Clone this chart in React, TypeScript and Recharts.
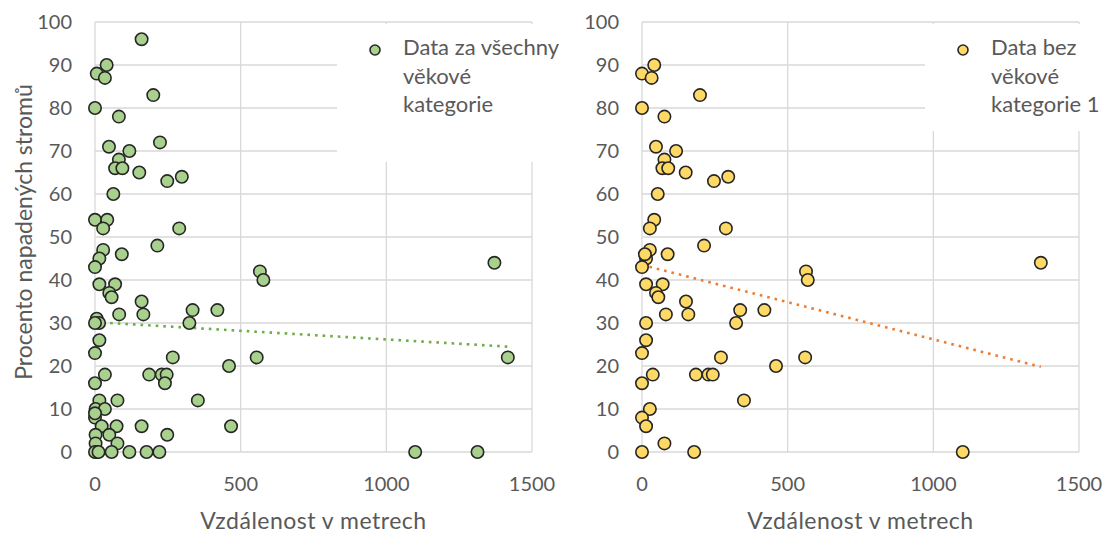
import React from 'react';
import { ScatterChart, Scatter, XAxis, YAxis, CartesianGrid, ReferenceLine, Legend } from 'recharts';

const xTicks = [0, 500, 1000, 1500];
const yTicks = [0, 10, 20, 30, 40, 50, 60, 70, 80, 90, 100];

const allX = [160, 6, 40, 34, 200, 0, 82, 48, 118, 223, 82, 69, 94, 152, 248, 298, 63, 0, 42, 28, 289, 28, 15, 92, 214, 0, 15, 69, 49, 57, 83, 160, 166, 335, 420, 324, 566, 578, 6, 14, 0, 15, 0, 267, 555, 460, 34, 0, 186, 229, 246, 240, 15, 77, 353, 2, 34, 0, 0, 23, 74, 160, 467, 2, 49, 248, 77, 2, 6, 57, 118, 177, 221, 0, 12, 1371, 1417, 1099, 1313];
const allY = [96, 88, 90, 87, 83, 80, 78, 71, 70, 72, 68, 66, 66, 65, 63, 64, 60, 54, 54, 52, 52, 47, 45, 46, 48, 43, 39, 39, 37, 36, 32, 35, 32, 33, 33, 30, 42, 40, 31, 30, 30, 26, 23, 22, 22, 20, 18, 16, 18, 18, 18, 16, 12, 12, 12, 10, 10, 8, 9, 6, 6, 6, 6, 4, 4, 4, 2, 2, 0, 0, 0, 0, 0, 0, 0, 44, 22, 0, 0];

const no1X = [0, 42, 33, 199, 0, 77, 48, 117, 77, 70, 90, 150, 247, 296, 54, 42, 27, 288, 27, 14, 10, 88, 213, 0, 14, 71, 48, 56, 82, 151, 159, 337, 420, 323, 563, 569, 14, 14, 0, 271, 560, 460, 37, 0, 185, 228, 243, 350, 27, 0, 14, 77, 0, 179, 1369, 1101];
const no1Y = [88, 90, 87, 83, 80, 78, 71, 70, 68, 66, 66, 65, 63, 64, 60, 54, 52, 52, 47, 45, 46, 46, 48, 43, 39, 39, 37, 36, 32, 35, 32, 33, 33, 30, 42, 40, 30, 26, 23, 22, 22, 20, 18, 16, 18, 18, 18, 12, 10, 8, 6, 2, 0, 0, 44, 0];

const trendAllX = [0, 1417];
const trendAllY = [30.2, 24.5];
const trendNo1X = [0, 1369];
const trendNo1Y = [43.5, 19.8];

const allLabel = ['Data za všechny', 'věkové', 'kategorie'];
const no1Label = ['Data bez', 'věkové', 'kategorie 1'];

const allData = allX.map((x, i) => ({ x, y: allY[i] }));
const no1Data = no1X.map((x, i) => ({ x, y: no1Y[i] }));

const FONT = 'Lato, "Open Sans", sans-serif';
const GRAY = '#595959';
const GREEN = '#A9D18E';
const YELLOW = '#FFD966';

const marker = (fill: string) => (p: any) => (
  <circle cx={p.cx} cy={p.cy} r={6.2} fill={fill} stroke="#262626" strokeWidth={1.6} />
);

const legendContent = (fill: string, lines: string[]) => () => (
  <div style={{ position: 'relative', width: '100%', height: '100%', fontFamily: FONT, color: GRAY, fontSize: 22 }}>
    <svg width={14} height={14} style={{ position: 'absolute', left: 31, top: 19 }}>
      <circle cx={7} cy={7} r={5} fill={fill} stroke="#262626" strokeWidth={1.6} />
    </svg>
    <div style={{ position: 'absolute', left: 66, top: 9, lineHeight: '28.5px', whiteSpace: 'nowrap' }}>
      {lines.map((l, i) => (
        <div key={i}>{l}</div>
      ))}
    </div>
  </div>
);

const tickStyle = { fill: GRAY, fontSize: 20, fontFamily: FONT };

function Panel(props: {
  left: number;
  width: number;
  plotLeft: number;
  plotRight: number;
  data: { x: number; y: number }[];
  fill: string;
  trendColor: string;
  tx: number[];
  ty: number[];
  legendLines: string[];
  legendBox: { left: number; top: number; width: number; height: number };
  yLabel?: string;
}) {
  const { left, width, plotLeft, plotRight, data, fill, trendColor, tx, ty, legendLines, legendBox, yLabel } = props;
  return (
    <div style={{ position: 'absolute', left, top: 0 }}>
      <ScatterChart width={width} height={535} margin={{ top: 22, right: width - plotRight, bottom: 0, left: 0 }}>
        <CartesianGrid stroke="#d9d9d9" strokeWidth={1.3} />
        <XAxis
          type="number"
          dataKey="x"
          domain={[0, 1500]}
          ticks={xTicks}
          axisLine={false}
          tickLine={false}
          height={83}
          tickMargin={19}
          tick={tickStyle}
          interval={0}
          label={{
            content: () => (
              <text
                x={plotLeft + (plotRight - plotLeft) / 2}
                y={529}
                textAnchor="middle"
                fill={GRAY}
                fontSize={23}
                letterSpacing={0.5}
                fontFamily={FONT}
              >
                Vzdálenost v metrech
              </text>
            ),
          }}
        />
        <YAxis
          type="number"
          dataKey="y"
          domain={[0, 100]}
          ticks={yTicks}
          axisLine={false}
          tickLine={false}
          width={plotLeft}
          tickMargin={17}
          tick={tickStyle}
          interval={0}
          label={
            yLabel
              ? {
                  content: () => (
                    <text
                      x={23}
                      y={232}
                      transform="rotate(-90 23 232)"
                      textAnchor="middle"
                      dominantBaseline="central"
                      fill={GRAY}
                      fontSize={23}
                      fontFamily={FONT}
                    >
                      {yLabel}
                    </text>
                  ),
                }
              : undefined
          }
        />
        <Legend
          layout="vertical"
          align="center"
          verticalAlign="middle"
          wrapperStyle={{ position: 'absolute', background: '#fff', ...legendBox }}
          content={legendContent(fill, legendLines)}
        />
        <Scatter data={data} isAnimationActive={false} shape={marker(fill)} />
        <ReferenceLine
          segment={[
            { x: tx[0], y: ty[0] },
            { x: tx[1], y: ty[1] },
          ]}
          stroke={trendColor}
          strokeWidth={2.6}
          strokeDasharray="2.6 5"
        />
      </ScatterChart>
    </div>
  );
}

export default function App() {
  return (
    <div style={{ position: 'absolute', left: 0, top: 0, width: 1113, height: 535, background: '#fff', overflow: 'hidden' }}>
      <Panel
        left={0}
        width={560}
        plotLeft={95}
        plotRight={532}
        data={allData}
        fill={GREEN}
        trendColor="#70AD47"
        tx={trendAllX}
        ty={trendAllY}
        legendLines={allLabel}
        legendBox={{ left: 337, top: 24, width: 223, height: 138 }}
        yLabel="Procento napadených stromů"
      />
      <Panel
        left={560}
        width={553}
        plotLeft={82}
        plotRight={519}
        data={no1Data}
        fill={YELLOW}
        trendColor="#ED7D31"
        tx={trendNo1X}
        ty={trendNo1Y}
        legendLines={no1Label}
        legendBox={{ left: 365, top: 24, width: 188, height: 107 }}
      />
    </div>
  );
}
